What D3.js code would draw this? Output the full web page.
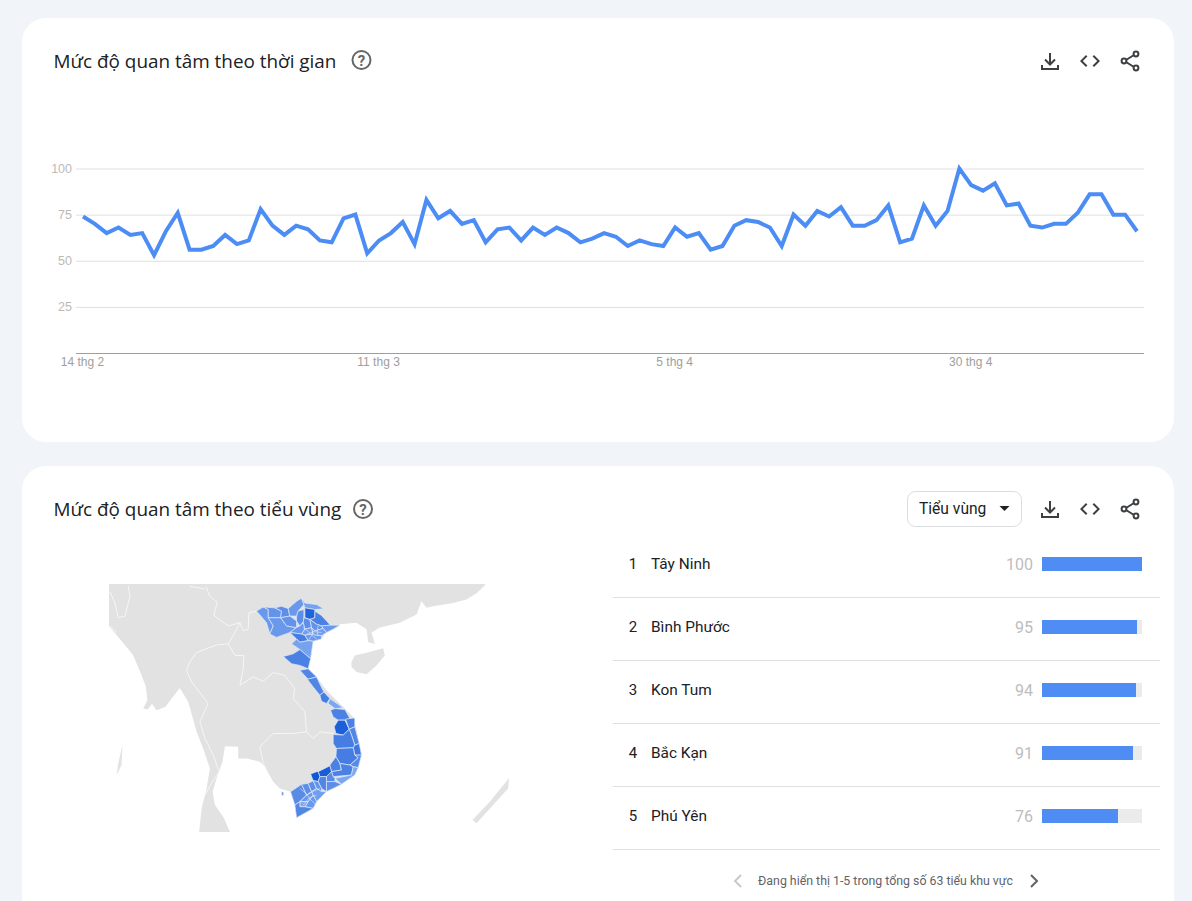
<!DOCTYPE html>
<html lang="vi">
<head>
<meta charset="utf-8">
<title>Mức độ quan tâm</title>
<script src="https://cdn.jsdelivr.net/npm/d3@7"></script>
<style>
    html, body { margin: 0; padding: 0; background: #f1f4f9; overflow: hidden; }
    svg { display: block; }
    text { font-family: Roboto, sans-serif; }
</style>
</head>
<body>
<script>
// interest over time, one value per day from 14 thg 2
let interest = [74, 70, 65, 68, 64, 65, 53, 66, 76, 56, 56, 58, 64, 59, 61, 78, 69, 64, 69, 67, 61, 60, 73, 75, 54, 61, 65, 71, 59, 83,
    73, 77, 70, 72, 60, 67, 68, 61, 68, 64, 68, 65, 60, 62, 65, 63, 58, 61, 59, 58, 68, 63, 65, 56, 58, 69, 72, 71, 68, 58,
    75, 69, 77, 74, 79, 69, 69, 72, 80, 60, 62, 80, 69, 77, 100, 91, 88, 92, 80, 81, 69, 68, 70, 70, 76, 86, 86, 75, 75, 66];
let yTicks = [25, 50, 75, 100];
let xTickDays = [0, 25, 50, 75];
let xTickLabels = ["14 thg 2", "11 thg 3", "5 thg 4", "30 thg 4"];

// top regions list
let topRegions = ["Tây Ninh", "Bình Phước", "Kon Tum", "Bắc Kạn", "Phú Yên"];
let topValues = [100, 95, 94, 91, 76];

// map: lon/lat rings
let provinceNames = ["Điện Biên", "Lai Châu", "Sơn La", "Lào Cai", "Yên Bái", "Hà Giang", "Cao Bằng", "Tuyên Quang", "Bắc Kạn", "Lạng Sơn",
    "Thái Nguyên", "Phú Thọ", "Hòa Bình", "Hà Nội", "Bắc Giang", "Quảng Ninh", "Hải Dương", "Nam Định", "Thanh Hóa", "Nghệ An",
    "Hà Tĩnh", "Quảng Bình", "Quảng Trị", "Huế", "Quảng Nam", "Kon Tum", "Quảng Ngãi", "Bình Định", "Gia Lai", "Phú Yên",
    "Đắk Lắk", "Khánh Hòa", "Đắk Nông", "Lâm Đồng", "Bình Thuận", "Đồng Nai", "Bà Rịa", "Bình Phước", "Tây Ninh", "TP HCM",
    "Kiên Giang", "An Giang", "Đồng Tháp", "Long An", "Bến Tre", "Cần Thơ", "Trà Vinh", "Bạc Liêu", "Cà Mau", "Phú Quốc"];
let provinceValues = [62, 64, 62, 66, 64, 62, 58, 66, 91, 72,
    66, 62, 74, 60, 64, 62, 60, 62, 58, 72,
    70, 70, 74, 56, 72, 94, 72, 70, 74, 76,
    74, 68, 72, 72, 56, 68, 66, 95, 100, 70,
    68, 66, 66, 64, 60, 62, 62, 56, 70, 70];
let provinceRings = [
    [[102.06,22.45],[102.53,22.72],[102.88,22.55],[102.88,22.02],[103.23,21.49],[102.99,20.96],[102.76,21.70]],
    [[102.53,22.72],[103.34,22.66],[103.81,22.45],[103.75,22.02],[102.88,22.02],[102.88,22.55]],
    [[102.88,22.02],[103.75,22.02],[104.16,21.49],[104.86,21.38],[104.39,21.06],[103.46,20.74],[102.99,20.96],[103.23,21.49]],
    [[103.34,22.66],[103.81,22.76],[104.27,22.62],[104.39,22.13],[103.75,22.02],[103.81,22.45]],
    [[103.75,22.02],[104.39,22.13],[104.86,21.81],[104.86,21.38],[104.16,21.49]],
    [[104.27,22.62],[104.86,23.08],[105.21,23.29],[105.37,22.87],[104.97,22.45],[104.86,22.13],[104.39,22.13]],
    [[105.21,23.29],[105.44,22.97],[106.26,22.87],[106.77,22.60],[106.14,22.55],[105.44,22.66],[105.37,22.87]],
    [[104.97,22.45],[105.37,22.55],[105.37,21.81],[105.09,21.49],[104.86,21.81],[104.86,22.13]],
    [[105.44,22.66],[106.14,22.55],[106.14,22.02],[105.79,21.91],[105.44,22.02]],
    [[106.14,22.45],[106.60,22.17],[107.23,21.54],[106.60,21.49],[106.26,21.60],[105.79,21.91],[106.14,22.02]],
    [[105.37,22.02],[105.79,21.91],[105.91,21.38],[105.44,21.28],[105.32,21.70]],
    [[104.86,21.38],[105.09,21.49],[105.32,21.70],[105.44,21.28],[105.21,20.96],[104.39,21.06]],
    [[104.39,21.06],[105.21,20.96],[105.44,20.89],[105.67,20.53],[105.09,20.42],[104.86,20.64]],
    [[105.44,21.28],[105.91,21.38],[106.02,20.96],[105.44,20.89],[105.21,20.96]],
    [[105.91,21.38],[105.79,21.91],[106.26,21.60],[106.60,21.49],[106.72,21.32],[106.14,21.17]],
    [[107.23,21.54],[107.89,21.54],[107.42,21.28],[106.95,21.06],[106.72,21.32],[106.60,21.49]],
    [[106.14,21.17],[106.72,21.32],[106.95,21.06],[106.60,20.85],[106.14,20.89],[106.02,20.96],[105.91,21.38]],
    [[106.14,20.89],[106.60,20.85],[106.60,20.64],[106.02,20.49],[105.67,20.53],[105.44,20.89],[106.02,20.96]],
    [[104.51,20.31],[104.86,20.64],[105.09,20.42],[105.67,20.53],[106.02,20.49],[105.84,19.34],[105.09,19.94],[104.86,20.10]],
    [[103.93,19.49],[104.62,19.66],[105.09,19.94],[105.84,19.34],[105.67,18.68],[105.09,18.90],[104.51,19.01]],
    [[105.09,18.57],[105.67,18.68],[106.26,18.13],[105.67,17.98]],
    [[105.61,17.98],[106.26,18.13],[106.53,17.58],[106.77,17.13],[106.49,16.91],[106.02,17.47]],
    [[106.49,16.91],[106.77,17.13],[107.19,16.69],[106.95,16.36],[106.60,16.51]],
    [[107.07,16.36],[107.19,16.69],[108.12,16.07],[107.54,16.02]],
    [[107.23,15.91],[107.54,16.02],[108.24,15.95],[108.59,15.35],[108.24,15.24],[107.77,15.24],[107.42,15.46]],
    [[107.77,15.24],[108.24,15.24],[108.54,14.63],[108.12,14.23],[107.61,14.34],[107.49,14.79]],
    [[108.28,15.31],[108.93,15.39],[108.93,14.79],[108.54,14.63]],
    [[108.54,14.63],[108.93,14.79],[109.24,13.66],[108.93,13.55],[108.70,14.23]],
    [[107.42,14.27],[108.12,14.23],[108.54,14.63],[108.70,14.23],[108.93,13.55],[108.82,13.37],[107.65,13.32],[107.42,13.66]],
    [[108.93,13.55],[109.24,13.66],[109.40,12.87],[108.93,12.87],[108.82,13.37]],
    [[107.65,13.32],[108.82,13.37],[108.93,12.87],[109.17,12.69],[108.59,12.19],[107.89,12.30],[107.61,12.76]],
    [[108.93,12.87],[109.40,12.87],[109.17,12.01],[108.82,12.08],[108.59,12.19],[109.17,12.69]],
    [[107.19,12.19],[107.61,12.76],[107.89,12.30],[108.00,11.85],[107.30,11.74]],
    [[107.89,12.30],[108.59,12.19],[108.82,12.08],[108.70,11.51],[107.42,11.40],[107.30,11.74],[108.00,11.85]],
    [[108.82,12.08],[109.17,12.01],[108.93,11.51],[108.00,10.87],[107.54,11.28],[108.70,11.51]],
    [[107.30,11.74],[107.42,11.40],[107.54,11.28],[107.54,11.06],[106.95,11.06],[106.95,11.40]],
    [[107.54,11.06],[108.00,10.87],[107.42,10.59],[106.95,10.37],[106.95,11.06]],
    [[106.37,11.74],[107.19,12.14],[107.30,11.74],[106.95,11.40],[106.49,11.40]],
    [[105.84,11.58],[106.26,11.74],[106.37,11.74],[106.49,11.40],[106.37,11.06],[106.02,11.12]],
    [[106.49,11.40],[106.95,11.40],[106.95,10.37],[106.60,10.59],[106.37,11.06]],
    [[104.44,10.36],[105.21,10.87],[105.56,10.13],[105.09,9.68],[104.74,9.44]],
    [[105.21,10.87],[105.67,10.94],[105.91,10.36],[105.56,10.13]],
    [[105.67,10.94],[106.02,11.12],[106.26,10.59],[105.91,10.36]],
    [[106.02,11.12],[106.37,11.06],[106.60,10.59],[106.60,10.37],[106.26,10.59]],
    [[106.26,10.59],[106.60,10.37],[106.95,10.37],[106.26,9.68],[106.02,10.13],[105.91,10.36]],
    [[105.56,10.13],[105.91,10.36],[106.02,10.13],[105.67,9.68],[105.09,9.68]],
    [[105.67,9.68],[106.02,10.13],[106.26,9.68],[106.02,9.21],[105.44,9.33]],
    [[105.09,9.68],[105.67,9.68],[105.44,9.33],[105.09,9.33]],
    [[104.74,9.44],[105.09,9.68],[105.09,9.33],[105.44,9.33],[106.02,9.21],[104.86,8.57]],
    [[103.81,10.36],[103.97,10.31],[103.92,10.08],[103.83,10.12]]
];
// smaller districts in the two river deltas
let deltaLines = [
    [[105.32,21.38],[105.72,21.10],[105.95,20.86],[106.26,20.64]],
    [[106.02,21.17],[105.95,20.90],[105.67,20.53]],
    [[106.37,21.49],[106.30,21.15],[106.37,20.85]],
    [[105.56,20.96],[106.05,21.12],[106.60,21.06]],
    [[105.09,10.59],[105.55,10.22],[105.80,9.85],[106.26,9.44]],
    [[105.56,10.13],[106.05,10.40],[106.49,10.59]],
    [[105.32,9.44],[105.75,9.95],[106.26,10.13]]
];
let landRings = [
    [[119,26],[118.02,24.09],[117.44,23.60],[116.74,23.19],[115.81,22.98],[114.41,22.77],[113.94,22.66],[113.59,23.08],[113.25,22.23],[112.08,21.70],[110.68,21.38],[110.10,21.06],[110.33,20.31],[109.87,20.42],[109.75,21.28],[109.05,21.70],[107.89,21.60],[107.42,21.28],[106.95,21.06],[106.60,20.64],[106.02,20.49],[105.84,19.34],[105.67,18.68],[106.26,18.13],[106.95,17.24],[108.12,16.13],[108.82,15.46],[109.00,14.79],[109.24,13.66],[109.40,12.87],[109.17,12.01],[108.93,11.51],[107.42,10.59],[106.95,10.37],[106.26,9.68],[106.02,9.21],[104.86,8.57],[104.74,9.44],[104.44,10.36],[103.69,10.59],[103.23,11.05],[102.64,12.08],[102.29,12.42],[101.36,12.64],[100.78,12.64],[100.78,13.44],[99.85,13.48],[99.68,12.42],[99.27,11.28],[98.99,10.36],[99.15,9.44],[99.73,8.64],[100.20,7.60],[100.24,7.10],[98.10,7.10],[98.05,7.60],[98.22,9.21],[98.57,10.59],[98.80,11.96],[98.33,13.32],[97.87,14.46],[97.28,16.47],[96.70,17.40],[96.12,16.69],[95.70,16.15],[95.07,15.91],[94.75,16.35],[94.45,15.95],[94.14,16.02],[94.43,16.60],[94.32,17.50],[94.02,18.24],[93.44,19.57],[92.51,20.64],[91.74,21.49],[91.11,21.49],[85,21.5],[85,26]],
    [[108.70,19.12],[108.93,19.56],[109.75,19.73],[110.92,20.03],[111.03,19.56],[110.45,18.90],[109.75,18.31],[109.05,18.46],[108.70,18.79]],
    [[119.72,11.28],[119.65,10.59],[118.60,9.44],[117.44,8.18],[117.16,8.41],[118.37,9.68],[119.42,10.94]],
    [[92.69,13.55],[92.62,12.20],[92.28,11.51],[92.39,12.30]]
];
let borderLines = [
    [[98.52,24.03],[98.80,23.40],[99.31,23.02],[99.08,22.17],[100.08,21.49],[100.90,21.70],[101.13,21.17],[101.48,21.28],[101.53,22.34],[102.06,22.45]],
    [[100.90,21.70],[100.43,20.85],[100.08,20.31],[99.27,20.25],[97.87,19.75],[97.40,19.12],[97.16,18.57],[97.52,17.80],[98.68,16.36],[98.10,15.13],[98.45,14.01],[99.03,12.87],[99.45,11.74],[98.92,10.94],[98.45,10.13]],
    [[100.08,20.31],[100.55,19.56],[101.18,19.56],[101.13,18.68],[100.90,17.58],[101.83,18.13],[102.53,17.85],[103.23,18.42],[104.04,18.24],[104.74,17.36],[104.62,16.69],[105.44,15.80],[105.56,14.45]],
    [[105.56,14.45],[104.62,14.34],[103.23,14.34],[102.29,13.44],[102.53,12.30],[102.88,11.62]],
    [[105.56,14.45],[106.02,14.00],[106.49,14.45],[107.42,14.34]],
    [[93.09,24.09],[93.21,23.40],[92.86,22.13],[92.39,22.02],[92.16,22.97],[91.81,23.71]],
    [[91.81,21.49],[92.28,21.07]],
    [[97.40,24.03],[98.45,23.88]]
];

let size = {width: 1192, height: 901};
let titleFont = "'Open Sans', sans-serif";
let iconColor = "#3c4043";

let svg = d3.select("body").append("svg")
    .attr("width", size.width)
    .attr("height", size.height);

// cards
svg.selectAll("rect.card")
    .data([{y: 18, h: 424}, {y: 466, h: 470}])
    .join("rect")
    .attr("class", "card")
    .attr("x", 22)
    .attr("y", d => d.y)
    .attr("width", 1152)
    .attr("height", d => d.h)
    .attr("rx", 24)
    .attr("fill", "white");

function cardHeader(title, y, helpX, helpY) {
    svg.append("text")
        .attr("x", 53.5)
        .attr("y", y + 7)
        .attr("font-size", 18.9)
        .attr("fill", "#202124")
        .style("font-family", titleFont)
        .text(title);

    let help = svg.append("g").attr("transform", `translate(${helpX},${helpY})`);
    help.append("circle").attr("r", 9).attr("fill", "none").attr("stroke", "#666").attr("stroke-width", 2);
    help.append("text")
        .attr("text-anchor", "middle")
        .attr("y", 5.5)
        .attr("font-size", 15)
        .attr("font-weight", 700)
        .attr("fill", "#666")
        .text("?");

    // download
    svg.append("path")
        .attr("transform", `translate(1038,${y - 12})`)
        .attr("d", "M12 4v11M7 10.5l5 5 5-5M4 16v4h16v-4")
        .attr("fill", "none")
        .attr("stroke", iconColor)
        .attr("stroke-width", 2);
    // embed
    svg.append("path")
        .attr("transform", `translate(1078,${y - 12})`)
        .attr("d", "M9.4 16.6L4.8 12l4.6-4.6L8 6l-6 6 6 6 1.4-1.4zm5.2 0l4.6-4.6-4.6-4.6L16 6l6 6-6 6-1.4-1.4z")
        .attr("fill", iconColor);
    // share
    let share = svg.append("g")
        .attr("transform", `translate(1118,${y - 12})`)
        .attr("fill", "none")
        .attr("stroke", iconColor)
        .attr("stroke-width", 2);
    share.append("path").attr("d", "M8 11l8-5M8 13l8 5");
    share.selectAll("circle")
        .data([[18, 5], [6, 12], [18, 19]])
        .join("circle")
        .attr("cx", d => d[0])
        .attr("cy", d => d[1])
        .attr("r", 2.4);
}

cardHeader("Mức độ quan tâm theo thời gian", 61, 361.5, 60);
cardHeader("Mức độ quan tâm theo tiểu vùng", 509, 363, 509);

// line chart
let x = d3.scaleLinear().domain([0, interest.length - 1]).range([83, 1137]);
let y = d3.scaleLinear().domain([0, 100]).range([353, 168.5]);

let yAxis = svg.append("g")
    .attr("transform", "translate(76,0)")
    .call(d3.axisLeft(y).tickValues(yTicks).tickSize(-1068).tickPadding(4));
yAxis.select(".domain").remove();
yAxis.selectAll(".tick line").attr("stroke", "#e0e0e0");
yAxis.selectAll(".tick text")
    .attr("fill", "#bdb9b6")
    .attr("font-size", 12.5)
    .style("font-family", "'Liberation Sans', sans-serif");

let xAxis = svg.append("g")
    .attr("transform", "translate(-1,353)")
    .call(d3.axisBottom(x).tickValues(xTickDays).tickSize(0).tickPadding(4)
        .tickFormat((d, i) => xTickLabels[i]));
xAxis.select(".domain").remove();
xAxis.selectAll(".tick text")
    .attr("fill", "#9e9e9e")
    .attr("font-size", 12)
    .style("font-family", "'Liberation Sans', sans-serif");
svg.append("line")
    .attr("x1", 76)
    .attr("x2", 1144)
    .attr("y1", y(0) + 0.5)
    .attr("y2", y(0) + 0.5)
    .attr("stroke", "#9e9e9e");

let line = d3.line()
    .x((d, i) => x(i))
    .y(d => y(d));

svg.append("path")
    .datum(interest)
    .attr("d", line)
    .attr("fill", "none")
    .attr("stroke", "#4b8df5")
    .attr("stroke-width", 4)
    .attr("stroke-linejoin", "miter");

// map
let projection = d3.geoMercator()
    .center([104.75, 8.55])
    .translate([295, 818])
    .scale(819.5)
    .clipExtent([[109, 584], [512, 832]]);
let geoPath = d3.geoPath(projection);

// geoPath cares about ring direction, big area means it is the wrong way round
function toPolygon(ring) {
    let closed = ring.concat([ring[0]]);
    let feature = {type: "Polygon", coordinates: [closed]};
    if (d3.geoArea(feature) > 2 * Math.PI) {
        feature.coordinates = [closed.slice().reverse()];
    }
    return feature;
}

let mapColor = d3.scaleLinear().domain([55, 76, 100]).range(["#7fa9f0", "#3f78e0", "#0f57d6"]);

svg.append("g")
    .selectAll("path")
    .data(landRings.map(toPolygon))
    .join("path")
    .attr("d", geoPath)
    .attr("fill", "#e2e2e2");

svg.append("g")
    .selectAll("path")
    .data(borderLines.map(d => ({type: "LineString", coordinates: d})))
    .join("path")
    .attr("d", geoPath)
    .attr("fill", "none")
    .attr("stroke", "#f6f6f6")
    .attr("stroke-width", 1);

svg.append("g")
    .selectAll("path")
    .data(provinceRings.map(toPolygon))
    .join("path")
    .attr("d", geoPath)
    .attr("fill", (d, i) => mapColor(provinceValues[i]))
    .attr("stroke", "#dfe9fc")
    .attr("stroke-width", 0.7)
    .append("title")
    .text((d, i) => `${provinceNames[i]}: ${provinceValues[i]}`);

svg.append("g")
    .selectAll("path")
    .data(deltaLines.map(d => ({type: "LineString", coordinates: d})))
    .join("path")
    .attr("d", geoPath)
    .attr("fill", "none")
    .attr("stroke", "#dfe9fc")
    .attr("stroke-width", 0.6);

// dropdown
svg.append("rect")
    .attr("x", 907.5)
    .attr("y", 491.5)
    .attr("width", 114)
    .attr("height", 35)
    .attr("rx", 8)
    .attr("fill", "white")
    .attr("stroke", "#dadce0");
svg.append("text")
    .attr("x", 919)
    .attr("y", 514)
    .attr("font-size", 15.6)
    .attr("fill", "#202124")
    .text("Tiểu vùng");
svg.append("path")
    .attr("d", "M999.5 506h10l-5 5z")
    .attr("fill", "#202124");

// ranked list
let rowY = d3.scaleBand()
    .domain(d3.range(topRegions.length + 1))
    .range([533, 533 + 63 * (topRegions.length + 1)]);
let barWidth = d3.scaleLinear().domain([0, 100]).range([0, 100]);

let rows = svg.append("g")
    .selectAll("g")
    .data(topRegions)
    .join("g")
    .attr("transform", (d, i) => `translate(0,${rowY(i)})`);

rows.append("line")
    .attr("x1", 613)
    .attr("x2", 1160)
    .attr("y1", 64.5)
    .attr("y2", 64.5)
    .attr("stroke", "#e0e0e0");
rows.append("text")
    .attr("x", 633)
    .attr("y", 36)
    .attr("text-anchor", "middle")
    .attr("font-size", 15)
    .attr("fill", "#202124")
    .text((d, i) => i + 1);
rows.append("text")
    .attr("x", 651)
    .attr("y", 36)
    .attr("font-size", 15.4)
    .attr("fill", "#202124")
    .text(d => d);
rows.append("text")
    .attr("x", 1033)
    .attr("y", 37)
    .attr("text-anchor", "end")
    .attr("font-size", 16)
    .attr("fill", "#bdbdbd")
    .text((d, i) => topValues[i]);
rows.append("rect")
    .attr("x", 1042)
    .attr("y", 24)
    .attr("width", barWidth(100))
    .attr("height", 14)
    .attr("fill", "#ebebeb");
rows.append("rect")
    .attr("x", 1042)
    .attr("y", 24)
    .attr("width", (d, i) => barWidth(topValues[i]))
    .attr("height", 14)
    .attr("fill", "#4f8df5");

// paging
svg.append("text")
    .attr("x", 885.5)
    .attr("y", 885)
    .attr("text-anchor", "middle")
    .attr("font-size", 12.35)
    .attr("fill", "#5f6368")
    .text("Đang hiển thị 1-5 trong tổng số 63 tiểu khu vực");
svg.append("path")
    .attr("d", "M741 875l-6 6 6 6")
    .attr("fill", "none")
    .attr("stroke", "#c4c7c9")
    .attr("stroke-width", 1.8);
svg.append("path")
    .attr("d", "M1031 875l6 6-6 6")
    .attr("fill", "none")
    .attr("stroke", "#5f6368")
    .attr("stroke-width", 2);
</script>
</body>
</html>
